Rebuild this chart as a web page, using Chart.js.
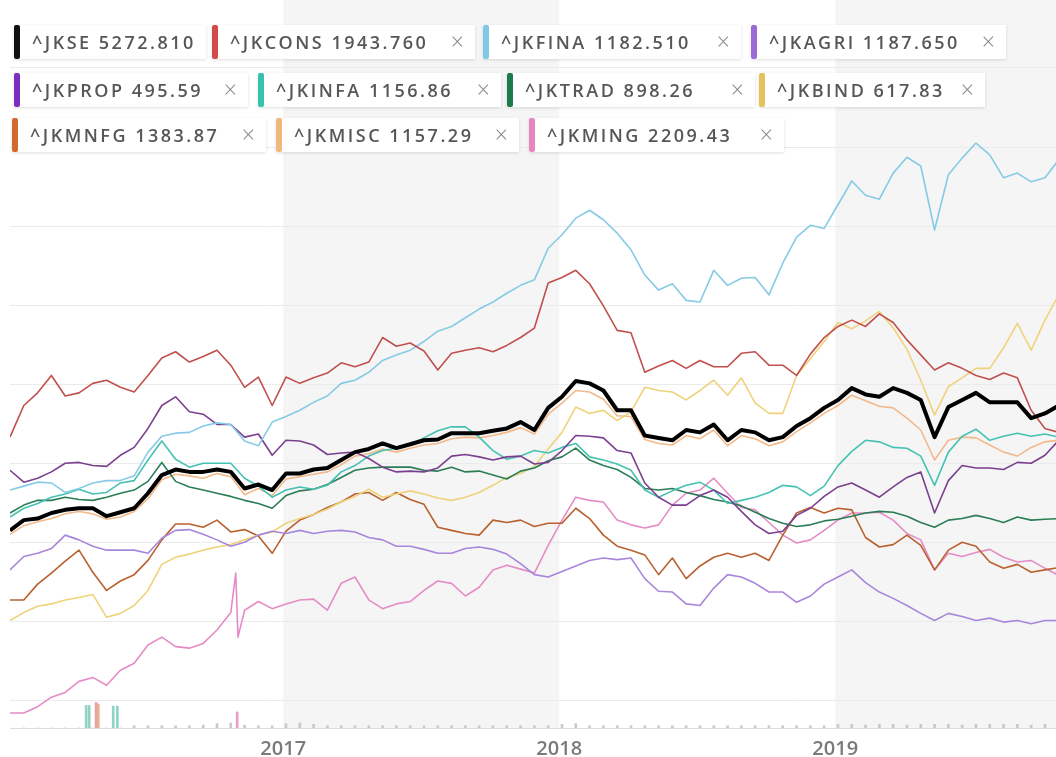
<!DOCTYPE html>
<html>
<head>
<meta charset="utf-8">
<script src="https://cdn.jsdelivr.net/npm/chart.js@4.4.1/dist/chart.umd.min.js"></script>
<style>
    html, body { margin: 0; padding: 0; background: #fff; }
    #wrap { position: relative; width: 1056px; height: 757px; overflow: hidden; }
    #chart { position: absolute; left: 0; top: 0; }
    .chip {
        position: absolute; height: 34px; background: #fff;
        box-shadow: 0 1px 3px rgba(0,0,0,0.13);
        font: 600 18px 'Open Sans', sans-serif; color: #575757;
        letter-spacing: 2.5px; white-space: nowrap; line-height: 34px;
    }
    .chip .sw { position: absolute; left: 0; top: 0; width: 6px; height: 34px; border-radius: 2px; }
    .chip .txt { position: absolute; left: 18px; top: 0; }
    .chip .x { position: absolute; right: 11px; top: -1px; color: #8a8a8a; font-weight: 300; font-size: 23px; letter-spacing: 0; }
</style>
</head>
<body>
<div id="wrap">
    <canvas id="chart" width="1056" height="757"></canvas>
    <div id="legend"></div>
</div>
<script>
// --- 1. DATOS ---
// weekly-ish sampling, fractional years
const dates = Array.from({ length: 77 }, (_, i) => +(2016.01 + i * 0.05).toFixed(2));
const tickYears = [2017, 2018, 2019];
const gridLevels = [0, 10, 20, 30, 40, 50, 60, 70, 80];
const shadedYears = [[2017, 2018], [2019, 2020]];

const seriesNames = ['^JKSE', '^JKCONS', '^JKFINA', '^JKAGRI', '^JKPROP', '^JKINFA',
    '^JKTRAD', '^JKBIND', '^JKMNFG', '^JKMISC', '^JKMING'];
const lastPrices = ['5272.810', '1943.760', '1182.510', '1187.650', '495.59', '1156.86',
    '898.26', '617.83', '1383.87', '1157.29', '2209.43'];

// % change
const jkse = [21.5,22.8,23.0,23.7,24.1,24.3,24.3,23.3,23.8,24.3,
    26.2,28.5,29.2,28.9,28.9,29.2,28.9,26.8,27.3,26.6,
    28.7,28.7,29.2,29.4,30.4,31.4,31.8,32.5,31.9,32.4,
    32.9,33.0,33.8,33.8,33.8,34.1,34.4,35.2,34.2,37.0,
    38.4,40.4,40.1,39.2,36.7,36.7,33.5,33.2,32.9,34.2,
    33.9,34.9,32.9,34.2,33.9,32.9,33.3,34.7,35.7,37.0,
    38.0,39.5,38.7,38.4,39.5,38.9,38.0,33.3,37.1,38.0,
    38.9,37.7,37.7,37.7,35.7,36.3,37.3];
const jkcons = [33.3,37.3,38.9,41.1,38.5,38.9,40.1,40.5,39.6,39.0,
    41.1,43.3,44.1,42.8,43.5,44.3,42.4,39.6,40.9,37.3,
    40.9,40.1,40.8,41.4,42.7,42.2,42.8,45.9,44.8,45.2,
    44.2,41.8,43.9,44.3,44.6,44.1,44.9,45.9,47.1,52.8,
    53.5,54.4,52.7,49.9,46.8,46.5,41.5,42.3,43.0,42.0,
    43.0,42.2,42.2,43.9,44.1,42.4,42.4,41.1,43.8,45.9,
    47.3,48.1,47.3,48.9,47.8,45.6,43.7,41.8,42.7,42.0,
    41.1,40.6,41.4,40.8,36.7,34.4,33.9];
const jkfina = [26.6,27.1,27.6,27.5,26.3,26.8,27.5,27.8,27.8,28.4,
    31.4,33.4,33.8,33.9,34.7,35.1,34.9,32.8,32.2,35.2,
    35.9,36.7,37.7,38.5,40.1,40.5,41.5,43.0,43.7,44.3,
    45.4,46.7,47.3,48.4,49.5,50.4,51.5,52.5,53.2,57.2,
    58.9,61.0,62.0,60.8,59.1,57.0,53.8,51.9,52.7,50.6,
    50.4,54.4,52.5,53.4,53.5,51.3,55.3,58.6,60.1,59.7,
    62.7,65.7,63.9,63.4,66.7,68.7,67.6,59.5,66.5,68.6,
    70.5,69.0,66.1,66.7,65.6,66.1,68.4];
const jkagri = [16.5,18.2,18.6,19.2,20.9,20.3,19.5,19.0,19.0,19.0,
    18.6,20.5,21.5,21.6,21.0,20.3,19.5,20.0,20.9,21.4,
    21.1,21.5,21.1,21.4,21.5,21.3,20.6,20.3,19.5,19.5,
    19.1,18.6,18.6,19.2,19.4,19.1,18.5,17.3,15.9,15.6,
    16.3,17.0,17.7,18.0,17.8,18.0,15.4,13.8,13.7,12.2,
    12.0,14.2,15.9,15.6,14.8,13.7,13.7,12.4,13.2,14.7,
    15.6,16.5,14.9,13.7,12.9,12.0,11.0,10.1,11.0,10.6,
    10.1,10.4,9.9,10.1,9.7,10.1,10.1];
const jkprop = [29.1,27.6,28.1,28.9,30.0,30.1,29.7,29.6,31.0,32.0,
    34.4,37.3,38.4,36.5,36.2,34.9,34.9,33.3,33.7,31.0,
    32.9,32.8,32.3,31.1,31.3,31.4,30.6,29.5,28.9,29.0,
    28.9,29.4,30.9,31.1,30.8,30.4,30.8,30.9,29.9,30.1,
    31.6,33.5,33.4,33.2,31.6,31.3,27.5,25.7,24.7,24.7,
    25.9,26.6,25.7,23.9,22.2,21.1,21.4,23.4,24.3,25.8,
    27.0,27.5,26.6,25.7,27.0,28.2,28.9,23.7,27.8,29.7,
    29.4,29.4,29.2,30.1,30.0,31.0,32.9];
const jkinfa = [23.2,24.3,24.9,25.7,26.1,26.7,26.1,26.3,27.5,27.8,
    30.4,32.8,30.5,29.5,30.0,30.0,30.0,28.1,27.1,25.7,
    26.6,27.0,26.7,27.2,28.9,29.7,30.9,31.6,31.9,32.3,
    33.2,34.1,34.6,34.6,33.3,31.6,30.5,30.9,31.6,31.3,
    32.0,32.5,30.8,30.4,29.9,29.1,26.6,25.7,26.5,27.2,
    27.6,26.6,24.9,25.3,25.7,26.3,27.2,27.0,25.9,27.1,
    29.7,31.5,32.9,32.7,32.0,31.9,30.9,27.2,31.4,33.4,
    34.3,32.9,33.4,33.8,33.4,33.7,33.3];
const jktrad = [23.7,24.7,25.3,25.3,25.7,25.4,25.3,25.7,26.2,26.6,
    27.7,30.1,27.7,27.0,26.6,26.2,25.8,25.3,24.9,24.3,
    25.9,26.5,26.7,27.3,28.2,29.1,29.4,29.5,29.5,29.5,
    29.1,29.0,29.5,28.9,29.0,28.5,28.0,29.0,29.4,30.3,
    30.8,31.9,30.4,29.7,29.2,28.2,26.8,26.6,26.8,26.3,
    25.9,25.4,25.1,24.6,23.8,23.0,22.4,22.0,22.2,22.7,
    22.9,23.3,23.7,23.9,23.8,23.3,22.5,21.9,22.8,23.0,
    23.4,23.0,22.5,23.2,22.8,22.9,23.0];
const jkbind = [10.1,11.1,11.9,12.2,12.7,13.0,13.4,10.5,11.0,12.0,
    13.9,17.2,18.1,18.5,19.0,19.4,19.7,20.3,20.9,21.3,
    22.4,23.0,23.5,24.2,25.1,25.8,26.7,25.7,26.1,26.5,
    26.1,25.6,25.3,25.7,26.3,27.2,28.2,28.7,29.6,31.8,
    33.9,37.1,36.3,36.7,35.4,36.5,39.6,39.2,39.0,38.0,
    39.2,40.5,38.6,40.8,37.6,36.3,36.3,41.1,43.2,45.4,
    47.8,47.0,48.0,49.2,47.1,44.4,40.5,36.1,39.7,40.8,
    42.0,42.0,44.6,47.7,44.3,48.1,51.3];
const jkmnfg = [12.7,12.7,14.7,16.1,17.6,19.0,16.2,13.9,15.1,15.9,
    17.7,20.3,22.3,22.3,21.9,22.8,21.3,21.6,20.8,18.6,
    21.4,22.8,23.5,24.4,25.1,26.1,26.3,25.3,26.3,25.4,
    24.8,21.9,21.5,21.1,20.9,22.8,22.5,22.8,22.0,22.4,
    22.4,24.3,23.0,20.9,19.5,19.0,18.4,15.9,18.0,15.4,
    17.0,18.1,18.6,18.1,18.6,17.7,20.9,23.7,24.4,23.7,
    24.3,24.1,20.6,19.4,19.7,20.9,19.6,16.5,19.0,20.0,
    19.5,17.5,16.7,17.2,16.2,16.5,16.8];
const jkmisc = [21.0,22.1,22.6,23.0,23.6,23.9,23.6,22.9,23.2,23.9,
    25.5,27.9,28.6,28.4,28.1,28.7,28.3,26.0,26.8,25.9,
    28.0,28.3,28.6,28.9,29.8,30.9,31.2,31.8,31.4,31.9,
    32.3,32.5,33.1,33.3,33.2,33.5,33.9,34.5,33.7,36.2,
    37.6,39.2,39.0,38.1,36.0,35.9,33.0,32.5,32.3,33.5,
    33.1,34.2,32.2,33.5,33.1,32.2,32.7,34.0,35.1,36.3,
    37.3,38.6,37.9,37.2,37.0,35.7,34.2,30.4,32.9,33.3,
    33.2,32.3,31.4,30.9,32.0,32.7,32.9];
const jkming = [-1.6,-1.6,-0.8,0.4,1.0,2.4,2.9,1.9,3.8,4.7,
    7.0,8.0,6.8,6.6,7.2,8.9,11.1,11.4,12.5,11.6,
    12.2,12.7,12.8,11.4,14.8,15.6,12.7,11.6,12.2,12.5,
    13.9,15.1,14.8,13.2,14.3,16.5,17.1,16.6,16.1,19.6,
    22.8,25.7,25.3,25.1,22.8,22.2,21.8,22.2,24.7,26.2,
    26.6,28.1,26.2,24.4,24.1,22.5,20.9,19.9,20.3,21.5,
    22.8,23.7,23.7,23.8,22.8,21.1,20.3,16.5,18.6,18.2,
    18.7,19.1,18.1,17.5,17.7,16.7,15.8];
// one-day spike of ^JKMING in Nov 2016
const mingSpikeDates = [2016.828, 2016.836];
const mingSpikeValues = [16.1, 8.0];

// volume strip at the bottom
const volume = [0,0,0,0,0,0,0,0,0,0.3,
    0.3,0.3,0.3,0.3,0.4,0.6,0.7,0.4,0.3,0.3,
    0.6,0.7,0.5,0.3,0.3,0.3,0.3,0.3,0.3,0.3,
    0.3,0.3,0.3,0.3,0.3,0.3,0.3,0.3,0.3,0.3,
    0.5,0.6,0.3,0.3,0.3,0.3,0.3,0.3,0.3,0.3,
    0.3,0.3,0.3,0.3,0.3,0.3,0.3,0.3,0.3,0.3,
    0.5,0.5,0.4,0.5,0.5,0.4,0.5,0.5,0.5,0.4,
    0.5,0.5,0.5,0.5,0.4,0.5,0.5];
const spikeDates = [2016.286, 2016.297, 2016.322, 2016.330, 2016.384, 2016.399, 2016.833];
const spikeValues = [3.1, 3.1, 3.5, 3.3, 3.0, 3.0, 2.2];

// --- 2. ESTILOS ---
const lineColors = ['#000000', '#c0504d', '#86cbe6', '#a886dc', '#7b3f8f', '#45c2b1',
    '#2a7d55', '#efd27a', '#b8612f', '#f2b98a', '#e58cc6'];
const chipColors = ['#111111', '#d24a4a', '#7fc8e6', '#9b6ad6', '#7a2fc0', '#38c1ad',
    '#1d7a4c', '#e6c25a', '#d2692e', '#f0b87c', '#e886c0'];
const spikeColors = ['#8fd3c4', '#8fd3c4', '#e8a0a8', '#e8b090', '#8fd3c4', '#8fd3c4', '#e8a0c0'];
// chip boxes: left, top, width
const chipBoxes = [
    [14, 25, 192], [212, 25, 263], [483, 25, 258], [751, 25, 255],
    [14, 73, 234], [258, 73, 243], [507, 73, 248], [759, 73, 226],
    [12, 118, 254], [276, 118, 243], [529, 118, 255]
];

// --- 3. LEYENDA ---
const legend = document.getElementById('legend');
seriesNames.forEach((name, i) => {
    const [left, top, width] = chipBoxes[i];
    const chip = document.createElement('div');
    chip.className = 'chip';
    chip.style.left = left + 'px';
    chip.style.top = top + 'px';
    chip.style.width = width + 'px';
    chip.innerHTML = `<span class="sw" style="background:${chipColors[i]}"></span>` +
        `<span class="txt">${name} ${lastPrices[i]}</span>` +
        (i > 0 ? '<span class="x">×</span>' : '');
    legend.appendChild(chip);
});

// --- 4. GRÁFICA ---
const toPoints = (xs, ys) => ys.map((v, i) => ({ x: xs[i], y: v }));

const allSeries = [jkse, jkcons, jkfina, jkagri, jkprop, jkinfa, jktrad, jkbind, jkmnfg, jkmisc, jkming];
const lineSets = allSeries.map((values, i) => {
    let data = toPoints(dates, values);
    if (i === 10) {
        data = data.concat(toPoints(mingSpikeDates, mingSpikeValues)).sort((a, b) => a.x - b.x);
    }
    return {
        type: 'line',
        label: seriesNames[i],
        data: data,
        borderColor: lineColors[i],
        borderWidth: i === 0 ? 4 : 1.6,
        borderJoinStyle: 'round',
        pointRadius: 0,
        tension: 0,
        fill: false,
        order: i === 0 ? 0 : 1
    };
});

const bandsPlugin = {
    id: 'bands',
    beforeDraw(chart) {
        const { ctx, chartArea, scales: { x } } = chart;
        ctx.save();
        ctx.fillStyle = '#f5f5f5';
        shadedYears.forEach(([a, b]) => {
            const x0 = Math.max(x.getPixelForValue(a), chartArea.left);
            const x1 = Math.min(x.getPixelForValue(b), chartArea.right);
            ctx.fillRect(x0, 0, x1 - x0, chartArea.bottom);
        });
        ctx.restore();
    }
};

const chart = new Chart(document.getElementById('chart').getContext('2d'), {
    type: 'line',
    data: {
        datasets: [
            ...lineSets,
            {
                type: 'bar',
                data: toPoints(dates, volume),
                yAxisID: 'yv',
                backgroundColor: '#c9c9c9',
                barThickness: 2,
                grouped: false,
                order: 2
            },
            {
                type: 'bar',
                data: toPoints(spikeDates, spikeValues),
                yAxisID: 'yv',
                backgroundColor: spikeColors,
                barThickness: 2,
                grouped: false,
                order: 2
            }
        ]
    },
    options: {
        responsive: false,
        animation: false,
        layout: { padding: { left: 10, right: 0, top: 0, bottom: 0 } },
        plugins: { legend: { display: false }, tooltip: { enabled: false } },
        scales: {
            x: {
                type: 'linear',
                min: 2016.01,
                max: 2019.80,
                offset: false,
                afterBuildTicks: s => { s.ticks = tickYears.map(v => ({ value: v })); },
                afterFit: s => { s.height = 29; },
                grid: { display: false, drawTicks: false },
                border: { display: true, color: '#dddddd' },
                ticks: {
                    padding: 9,
                    color: '#7a7a7a',
                    font: { family: 'Open Sans', size: 20, weight: '600' },
                    callback: v => String(v)
                }
            },
            y: {
                min: -3.5,
                max: 88.6,
                afterBuildTicks: s => { s.ticks = gridLevels.map(v => ({ value: v })); },
                ticks: { display: false },
                grid: { color: '#ebebeb', drawTicks: false },
                border: { display: false }
            },
            yv: { display: false, min: 0, max: 100 }
        }
    },
    plugins: [bandsPlugin]
});
</script>
</body>
</html>
